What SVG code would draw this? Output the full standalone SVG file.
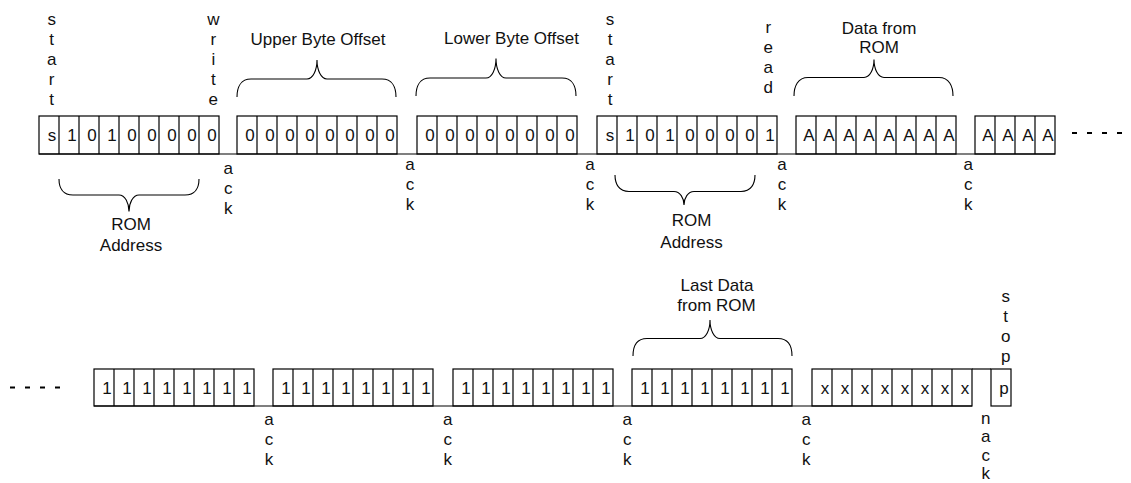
<svg xmlns="http://www.w3.org/2000/svg" width="1131" height="483" viewBox="0 0 1131 483">
<style>
  .box{fill:none;stroke:#000;stroke-width:1.2}
  .ln{fill:none;stroke:#000;stroke-width:1.2}
  .br{fill:none;stroke:#000;stroke-width:1.1}
  .dash{fill:none;stroke:#000;stroke-width:2;stroke-dasharray:5 10}
  text{font-family:"Liberation Sans",Arial,sans-serif;font-size:17px;fill:#111}
  .c{text-anchor:middle}
</style>
<rect width="1131" height="483" fill="#fff"/>

<g id="connectors">
  <line class="ln" x1="39" y1="154" x2="1055" y2="154"/>
  <line class="ln" x1="94" y1="406" x2="972" y2="406"/>
  <line class="ln" x1="972" y1="369" x2="991" y2="369"/>
  <line class="dash" x1="1072" y1="133" x2="1124" y2="133"/>
  <line class="dash" x1="10" y1="387.5" x2="62" y2="387.5"/>
</g>

<!-- top row frames -->
<g id="addr-write">
  <rect class="box" x="39" y="116" width="180" height="38"/>
  <path class="ln" d="M59 116V154M79 116V154M99 116V154M119 116V154M139 116V154M159 116V154M179 116V154M199 116V154"/>
  <text class="c" x="52 72 92 112 132 152 172 192 212" y="141">s10100000</text>
</g>
<g id="upper-offset">
  <rect class="box" x="237" y="116" width="160" height="38"/>
  <path class="ln" d="M257 116V154M277 116V154M297 116V154M317 116V154M337 116V154M357 116V154M377 116V154"/>
  <text class="c" x="250 270 290 310 330 350 370 390" y="141">00000000</text>
</g>
<g id="lower-offset">
  <rect class="box" x="417" y="116" width="160" height="38"/>
  <path class="ln" d="M437 116V154M457 116V154M477 116V154M497 116V154M517 116V154M537 116V154M557 116V154"/>
  <text class="c" x="430 450 470 490 510 530 550 570" y="141">00000000</text>
</g>
<g id="addr-read">
  <rect class="box" x="597" y="116" width="180" height="38"/>
  <path class="ln" d="M617 116V154M637 116V154M657 116V154M677 116V154M697 116V154M717 116V154M737 116V154M757 116V154"/>
  <text class="c" x="610 630 650 670 690 710 730 750 770" y="141">s10100001</text>
</g>
<g id="data1">
  <rect class="box" x="796" y="116" width="160" height="38"/>
  <path class="ln" d="M816 116V154M836 116V154M856 116V154M876 116V154M896 116V154M916 116V154M936 116V154"/>
  <text class="c" x="809 829 849 869 889 909 929 949" y="141">AAAAAAAA</text>
</g>
<g id="data2">
  <rect class="box" x="975" y="116" width="80" height="38"/>
  <path class="ln" d="M995 116V154M1015 116V154M1035 116V154"/>
  <text class="c" x="988 1008 1028 1048" y="141">AAAA</text>
</g>

<!-- bottom row frames -->
<g id="data-a">
  <rect class="box" x="94" y="369" width="160" height="37"/>
  <path class="ln" d="M114 369V406M134 369V406M154 369V406M174 369V406M194 369V406M214 369V406M234 369V406"/>
  <text class="c" x="107 127 147 167 187 207 227 247" y="393.5">11111111</text>
</g>
<g id="data-b">
  <rect class="box" x="273" y="369" width="160" height="37"/>
  <path class="ln" d="M293 369V406M313 369V406M333 369V406M353 369V406M373 369V406M393 369V406M413 369V406"/>
  <text class="c" x="286 306 326 346 366 386 406 426" y="393.5">11111111</text>
</g>
<g id="data-c">
  <rect class="box" x="453" y="369" width="160" height="37"/>
  <path class="ln" d="M473 369V406M493 369V406M513 369V406M533 369V406M553 369V406M573 369V406M593 369V406"/>
  <text class="c" x="466 486 506 526 546 566 586 606" y="393.5">11111111</text>
</g>
<g id="data-last">
  <rect class="box" x="632" y="369" width="160" height="37"/>
  <path class="ln" d="M652 369V406M672 369V406M692 369V406M712 369V406M732 369V406M752 369V406M772 369V406"/>
  <text class="c" x="645 665 685 705 725 745 765 785" y="393.5">11111111</text>
</g>
<g id="dont-care">
  <rect class="box" x="812" y="369" width="160" height="37"/>
  <path class="ln" d="M832 369V406M852 369V406M872 369V406M892 369V406M912 369V406M932 369V406M952 369V406"/>
  <text class="c" x="825 845 865 885 905 925 945 965" y="393.5">xxxxxxxx</text>
</g>
<g id="stop-bit">
  <rect class="box" x="991" y="369" width="20" height="37"/>
  <text class="c" x="1004" y="393.5">p</text>
</g>

<!-- braces -->
<g id="brace-upper">
  <path class="br" d="M237 97C237 87 241 79 251 79L307 79C313 79 317 70 317 60C317 70 321 79 327 79L382 79C392 79 396 87 396 97"/>
  <text class="c" x="318" y="44.5">Upper Byte Offset</text>
</g>
<g id="brace-lower">
  <path class="br" d="M416 96C416 86 420 78 430 78L486 78C492 78 496 69 496 58.5C496 69 500 78 506 78L562 78C572 78 576 86 576 96"/>
  <text class="c" x="511.5" y="44">Lower Byte Offset</text>
</g>
<g id="brace-data">
  <path class="br" d="M794 96C794 86 798 77.5 808 77.5L864 77.5C870 77.5 874 69 874 59.5C874 69 878 77.5 884 77.5L939 77.5C949 77.5 953 86 953 96"/>
  <text class="c" x="879" y="33.5">Data from</text>
  <text class="c" x="879" y="53">ROM</text>
</g>
<g id="brace-lastdata">
  <path class="br" d="M633 356C633 346 637 338.5 647 338.5L700 338.5C706 338.5 710 330 710 320C710 330 714 338.5 720 338.5L778 338.5C788 338.5 792 346 792 356"/>
  <text class="c" x="717" y="291">Last Data</text>
  <text class="c" x="716.5" y="310.5">from ROM</text>
</g>
<g id="brace-rom1">
  <path class="br" d="M59 179C59 188 63 195 73 195L119 195C125 195 129 203 129 211.5C129 203 133 195 139 195L185 195C195 195 199 188 199 179"/>
  <text class="c" x="131" y="230">ROM</text>
  <text class="c" x="131" y="251">Address</text>
</g>
<g id="brace-rom2">
  <path class="br" d="M615 175C615 184 619 191.5 629 191.5L674 191.5C680 191.5 684 198 684 205C684 198 688 191.5 694 191.5L741 191.5C751 191.5 755 184 755 175"/>
  <text class="c" x="691.5" y="226">ROM</text>
  <text class="c" x="691.5" y="248">Address</text>
</g>

<!-- vertical labels -->
<g id="label-start1"><text class="c" x="51.7 51.7 51.7 51.7 51.7" y="24.5 44.5 64.5 84.5 104.5">start</text></g>
<g id="label-write"><text class="c" x="213.3 213.3 213.3 213.3 213.3" y="24.5 44.5 64.5 84.5 104.5">write</text></g>
<g id="label-start2"><text class="c" x="610 610 610 610 610" y="24.5 44.5 64.5 84.5 104.5">start</text></g>
<g id="label-read"><text class="c" x="768.3 768.3 768.3 768.3" y="33 53 73 93">read</text></g>
<g id="ack-t1"><text class="c" x="228.3 228.3 228.3" y="173.5 193.5 213.5">ack</text></g>
<g id="ack-t2"><text class="c" x="410 410 410" y="170 190 210">ack</text></g>
<g id="ack-t3"><text class="c" x="590 590 590" y="170 190 210">ack</text></g>
<g id="ack-t4"><text class="c" x="782 782 782" y="170 190 210">ack</text></g>
<g id="ack-t5"><text class="c" x="968.3 968.3 968.3" y="170 190 210">ack</text></g>
<g id="ack-b1"><text class="c" x="269 269 269" y="425 445 465">ack</text></g>
<g id="ack-b2"><text class="c" x="447.7 447.7 447.7" y="425 445 465">ack</text></g>
<g id="ack-b3"><text class="c" x="627.3 627.3 627.3" y="425 445 465">ack</text></g>
<g id="ack-b4"><text class="c" x="806.3 806.3 806.3" y="425 445 465">ack</text></g>
<g id="label-nack"><text class="c" x="985.7 985.7 985.7 985.7" y="423.5 442 460.5 479">nack</text></g>
<g id="label-stop"><text class="c" x="1005.7 1005.7 1005.7 1005.7" y="302 322 342 362">stop</text></g>
</svg>
